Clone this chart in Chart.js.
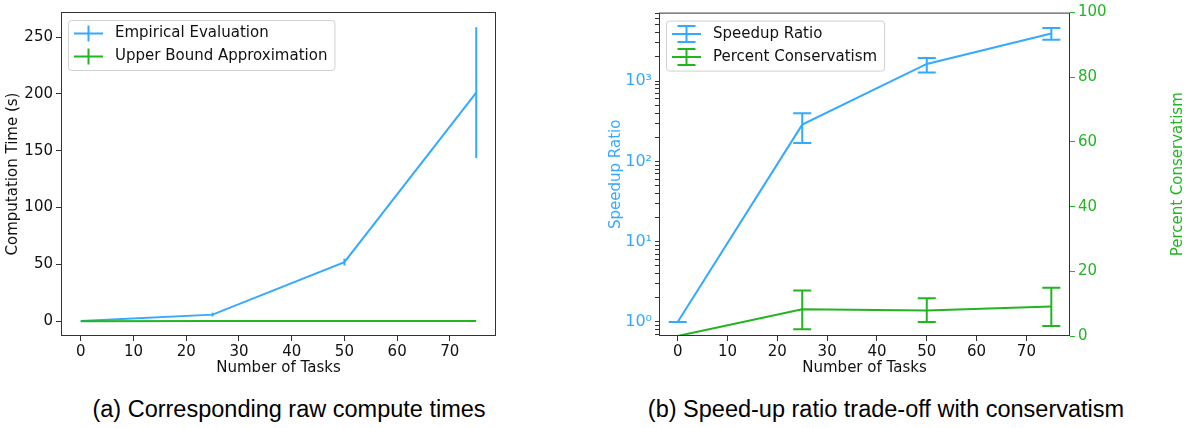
<!DOCTYPE html>
<html>
<head>
<meta charset="utf-8">
<script src="https://cdn.jsdelivr.net/npm/chart.js@4.4.1/dist/chart.umd.min.js"></script>
<style>
  body { margin: 0; background: #fff; width: 1193px; height: 428px; position: relative; overflow: hidden; }
  canvas { position: absolute; }
  #chartA { left: 0; top: 0; }
  #chartB { left: 603px; top: 0; }
  .caption { position: absolute; top: 396px; font-family: 'Liberation Sans', Arial, sans-serif; font-size: 23.5px; line-height: 26px; color: #000; text-align: center; white-space: nowrap; }
</style>
</head>
<body>
<canvas id="chartA" width="510" height="380"></canvas>
<canvas id="chartB" width="587" height="380"></canvas>
<div class="caption" style="left:39px;width:500px">(a) Corresponding raw compute times</div>
<div class="caption" style="left:606px;width:560px">(b) Speed-up ratio trade-off with conservatism</div>
<script>
// ---- data ----
const numTasks = [0, 25, 50, 75];

// (a) raw compute times (s)
const empiricalTime = [0.2, 5.8, 52, 201];
const empiricalLow = [0.1, 4.1, 49, 143.5];
const empiricalHigh = [0.3, 7.5, 55, 258.6];
const upperBoundTime = [0.05, 0.1, 0.1, 0.1];

// (b) speed-up ratio and conservatism
const speedup = [1, 287, 1634, 3910];
const speedupLow = [1, 169, 1277, 3266];
const speedupHigh = [1, 398, 1933, 4580];
const conservatism = [0, 8.3, 7.9, 9.1];
const conservatismLow = [0, 2.1, 4.3, 3.1];
const conservatismHigh = [0, 14.1, 11.7, 14.9];
const powerLabels = ['10⁰', '10¹', '10²', '10³'];

const BLUE = '#33aaff';
const GREEN = '#22b522';
const SPINE = '#333333';
const FONT = 15;

Chart.defaults.font.family = 'DejaVu Sans';
Chart.defaults.font.size = FONT;
Chart.defaults.color = '#111';
Chart.defaults.animation = false;

const pts = (ys) => numTasks.map((x, i) => ({ x: x, y: ys[i] }));

// vertical error bars, optional caps
const errorBars = {
  id: 'errorBars',
  afterDatasetsDraw(chart, args, opts) {
    const { ctx, chartArea } = chart;
    ctx.save();
    ctx.beginPath();
    ctx.rect(chartArea.left, chartArea.top, chartArea.width, chartArea.height);
    ctx.clip();
    chart.data.datasets.forEach((ds, i) => {
      if (!ds.errLow) return;
      const meta = chart.getDatasetMeta(i);
      const ys = chart.scales[meta.yAxisID];
      ctx.strokeStyle = ds.borderColor;
      ctx.lineWidth = 2;
      meta.data.forEach((pt, j) => {
        const x = pt.x;
        const y0 = ys.getPixelForValue(ds.errLow[j]);
        const y1 = ys.getPixelForValue(ds.errHigh[j]);
        ctx.beginPath();
        ctx.moveTo(x, y0);
        ctx.lineTo(x, y1);
        if (opts.cap) {
          ctx.moveTo(x - opts.cap, y0);
          ctx.lineTo(x + opts.cap, y0);
          ctx.moveTo(x - opts.cap, y1);
          ctx.lineTo(x + opts.cap, y1);
        }
        ctx.stroke();
      });
    });
    ctx.restore();
  }
};

// box around the axes + matplotlib-style legend + right title
const frameLegend = {
  id: 'frameLegend',
  afterDraw(chart, args, opts) {
    const { ctx, chartArea: a } = chart;
    ctx.save();
    ctx.strokeStyle = SPINE;
    ctx.lineWidth = 1;
    ctx.strokeRect(a.left + 0.5, a.top + 0.5, a.width - 1, a.height - 1);

    // legend
    ctx.font = FONT + 'px "DejaVu Sans"';
    const items = chart.data.datasets;
    const textW = Math.max(...items.map(d => ctx.measureText(d.label).width));
    const bx = a.left + 7, by = a.top + 8;
    const bw = 47 + textW + 7, bh = 50;
    ctx.beginPath();
    ctx.roundRect(bx + 0.5, by + 0.5, bw, bh, 3);
    ctx.fillStyle = 'rgba(255,255,255,0.8)';
    ctx.fill();
    ctx.strokeStyle = '#d0d0d0';
    ctx.stroke();
    items.forEach((d, i) => {
      const cy = by + 13.5 + i * 23;
      const hx0 = bx + 6, hx1 = bx + 35, hm = (hx0 + hx1) / 2;
      ctx.strokeStyle = d.borderColor;
      ctx.lineWidth = 2;
      ctx.beginPath();
      ctx.moveTo(hx0, cy);
      ctx.lineTo(hx1, cy);
      ctx.moveTo(hm, cy - 8);
      ctx.lineTo(hm, cy + 8);
      if (opts.cap) {
        ctx.moveTo(hm - opts.cap, cy - 8);
        ctx.lineTo(hm + opts.cap, cy - 8);
        ctx.moveTo(hm - opts.cap, cy + 8);
        ctx.lineTo(hm + opts.cap, cy + 8);
      }
      ctx.stroke();
      ctx.fillStyle = '#111';
      ctx.textBaseline = 'middle';
      ctx.fillText(d.label, bx + 47, cy);
    });

    if (opts.rightTitle) {
      ctx.translate(opts.rightTitle.x, (a.top + a.bottom) / 2);
      ctx.rotate(-Math.PI / 2);
      ctx.textAlign = 'center';
      ctx.textBaseline = 'middle';
      ctx.fillStyle = opts.rightTitle.color;
      ctx.fillText(opts.rightTitle.text, 0, 0);
    }
    ctx.restore();
  }
};

const xAxis = (h) => ({
  type: 'linear',
  min: -3.75,
  max: 78.75,
  ticks: { stepSize: 10, includeBounds: false, padding: 2, color: '#111' },
  grid: { drawOnChartArea: false, tickLength: 5, color: SPINE },
  border: { display: false },
  title: { display: true, text: 'Number of Tasks', color: '#111', padding: { top: 0, bottom: 3 } },
  afterFit: (s) => { s.height = h; }
});

// (a)
new Chart(document.getElementById('chartA'), {
  type: 'line',
  plugins: [errorBars, frameLegend],
  data: {
    datasets: [
      {
        label: 'Empirical Evaluation',
        data: pts(empiricalTime),
        errLow: empiricalLow,
        errHigh: empiricalHigh,
        borderColor: BLUE,
        borderWidth: 2,
        pointRadius: 0,
        order: 1
      },
      {
        label: 'Upper Bound Approximation',
        data: pts(upperBoundTime),
        borderColor: GREEN,
        borderWidth: 2,
        pointRadius: 0,
        order: 0
      }
    ]
  },
  options: {
    responsive: false,
    layout: { padding: { top: 7, right: 14, left: 0, bottom: 0 } },
    plugins: {
      legend: { display: false },
      tooltip: { enabled: false },
      errorBars: { cap: 0 },
      frameLegend: { cap: 0 }
    },
    scales: {
      x: xAxis(44),
      y: {
        type: 'linear',
        min: -13,
        max: 272,
        ticks: { stepSize: 50, includeBounds: false, padding: 3, color: '#111' },
        grid: { drawOnChartArea: false, tickLength: 5, color: SPINE },
        border: { display: false },
        title: { display: true, text: 'Computation Time (s)', color: '#111', padding: 4 },
        afterFit: (s) => { s.width = 61; }
      }
    }
  }
});

// (b)
const logTicks = [];
for (let e = -1; e <= 3; e++) {
  for (let m = 1; m <= 9; m++) {
    const v = m * Math.pow(10, e);
    if (v >= 0.668 && v <= 7130) logTicks.push(v);
  }
}

new Chart(document.getElementById('chartB'), {
  type: 'line',
  plugins: [errorBars, frameLegend],
  data: {
    datasets: [
      {
        label: 'Speedup Ratio',
        data: pts(speedup),
        errLow: speedupLow,
        errHigh: speedupHigh,
        borderColor: BLUE,
        borderWidth: 2,
        pointRadius: 0,
        yAxisID: 'y'
      },
      {
        label: 'Percent Conservatism',
        data: pts(conservatism),
        errLow: conservatismLow,
        errHigh: conservatismHigh,
        borderColor: GREEN,
        borderWidth: 2,
        pointRadius: 0,
        yAxisID: 'y1'
      }
    ]
  },
  options: {
    responsive: false,
    layout: { padding: { top: 7, right: 0, left: 0, bottom: 0 } },
    plugins: {
      legend: { display: false },
      tooltip: { enabled: false },
      errorBars: { cap: 9 },
      frameLegend: { cap: 9, rightTitle: { text: 'Percent Conservatism', color: GREEN, x: 1178 - 603 } }
    },
    scales: {
      x: xAxis(44),
      y: {
        type: 'logarithmic',
        position: 'left',
        min: 0.668,
        max: 7130,
        afterBuildTicks: (s) => { s.ticks = logTicks.map(v => ({ value: v })); },
        ticks: {
          autoSkip: false,
          padding: 3,
          color: BLUE,
          font: { size: 16 },
          callback: (v) => {
            const p = Math.log10(v);
            return Math.abs(p - Math.round(p)) < 1e-9 ? powerLabels[Math.round(p)] : '';
          }
        },
        grid: { drawOnChartArea: false, tickLength: 4, color: SPINE },
        border: { display: false },
        title: { display: true, text: 'Speedup Ratio', color: BLUE, padding: 4 },
        afterFit: (s) => { s.width = 56; }
      },
      y1: {
        type: 'linear',
        position: 'right',
        min: 0,
        max: 100,
        ticks: { stepSize: 20, padding: 3, color: GREEN },
        grid: { drawOnChartArea: false, tickLength: 5, color: GREEN },
        border: { display: false },
        afterFit: (s) => { s.width = 120; }
      }
    }
  }
});
</script>
</body>
</html>
